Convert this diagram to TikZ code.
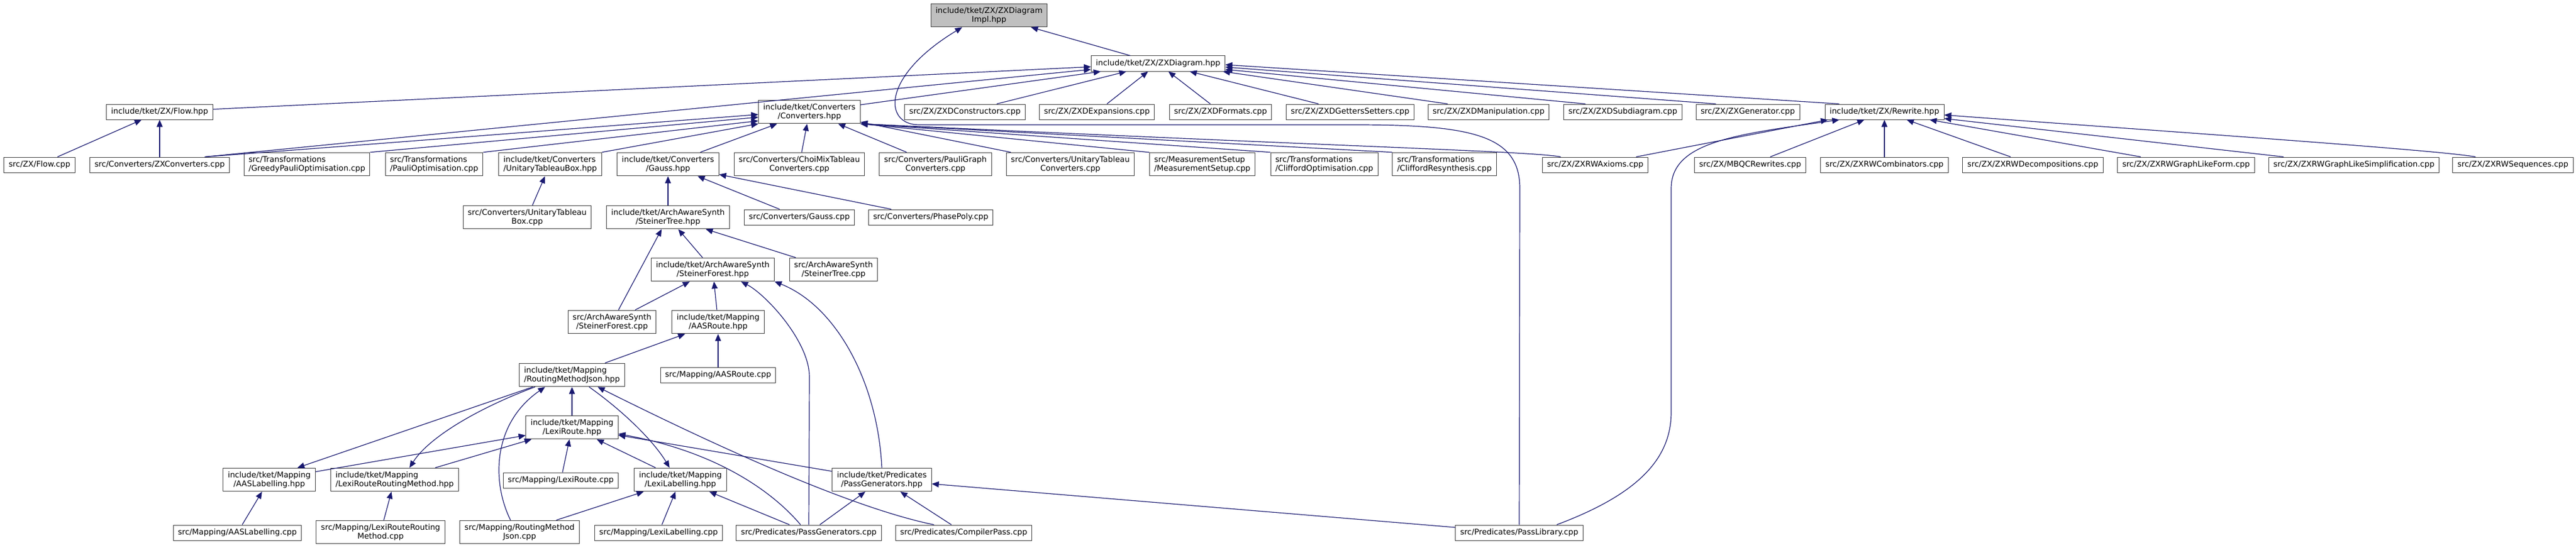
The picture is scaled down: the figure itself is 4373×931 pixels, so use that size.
\documentclass[tikz,border=0pt]{standalone}
\usepackage{fontspec}
\setmainfont{DejaVu Sans}
\usepackage{tikz}
\usetikzlibrary{arrows.meta}
\definecolor{edgeblue}{RGB}{25,25,112}
\definecolor{implgrey}{RGB}{191,191,191}
\definecolor{boxline}{RGB}{64,64,64}
\tikzstyle{file}=[draw=boxline,fill=white,line width=0.75pt,inner xsep=6pt,inner ysep=4.4pt,minimum height=19.5pt,font=\fontsize{10}{11.25}\selectfont,align=center]
\tikzstyle{inc}=[draw=edgeblue,line width=0.9pt,-{Triangle[length=9pt,width=7.5pt]}]

\begin{document}
\begin{tikzpicture}[x=0.75pt,y=-0.75pt]
        \useasboundingbox (0,0) rectangle (4373,931);
        \node (impl) at (1679,26) [file,fill=implgrey] {include/tket/ZX/ZXDiagram\\Impl.hpp};
        \node (zxd) at (1966,108) [file] {include/tket/ZX/ZXDiagram.hpp};
        \node (flowh) at (271,190) [file] {include/tket/ZX/Flow.hpp};
        \node (conv) at (1374,190) [file] {include/tket/Converters\\/Converters.hpp};
        \node (zxdcons) at (1638,190) [file] {src/ZX/ZXDConstructors.cpp};
        \node (zxdexp) at (1862,190) [file] {src/ZX/ZXDExpansions.cpp};
        \node (zxdfmt) at (2072,190) [file] {src/ZX/ZXDFormats.cpp};
        \node (zxdget) at (2292,190) [file] {src/ZX/ZXDGettersSetters.cpp};
        \node (zxdman) at (2527,190) [file] {src/ZX/ZXDManipulation.cpp};
        \node (zxdsub) at (2755,190) [file] {src/ZX/ZXDSubdiagram.cpp};
        \node (zxgen) at (2967,190) [file] {src/ZX/ZXGenerator.cpp};
        \node (rewh) at (3199,190) [file] {include/tket/ZX/Rewrite.hpp};
        \node (flowcpp) at (67,280) [file] {src/ZX/Flow.cpp};
        \node (zxconv) at (271,280) [file] {src/Converters/ZXConverters.cpp};
        \node (greedy) at (521,279) [file,align=left] {src/Transformations\\/GreedyPauliOptimisation.cpp};
        \node (pauliopt) at (737,279) [file,align=left] {src/Transformations\\/PauliOptimisation.cpp};
        \node (utbh) at (934,279) [file,align=left] {include/tket/Converters\\/UnitaryTableauBox.hpp};
        \node (gaussh) at (1134,279) [file] {include/tket/Converters\\/Gauss.hpp};
        \node (choimix) at (1357,279) [file] {src/Converters/ChoiMixTableau\\Converters.cpp};
        \node (pgconv) at (1588,279) [file] {src/Converters/PauliGraph\\Converters.cpp};
        \node (utconv) at (1817,279) [file] {src/Converters/UnitaryTableau\\Converters.cpp};
        \node (meas) at (2041,279) [file,align=left] {src/MeasurementSetup\\/MeasurementSetup.cpp};
        \node (cliffopt) at (2248,279) [file,align=left] {src/Transformations\\/CliffordOptimisation.cpp};
        \node (cliffres) at (2452,279) [file,align=left] {src/Transformations\\/CliffordResynthesis.cpp};
        \node (rwax) at (2708,280) [file] {src/ZX/ZXRWAxioms.cpp};
        \node (mbqc) at (2971,280) [file] {src/ZX/MBQCRewrites.cpp};
        \node (rwcomb) at (3199,280) [file] {src/ZX/ZXRWCombinators.cpp};
        \node (rwdec) at (3451,280) [file] {src/ZX/ZXRWDecompositions.cpp};
        \node (rwglf) at (3711,280) [file] {src/ZX/ZXRWGraphLikeForm.cpp};
        \node (rwgls) at (3996,280) [file] {src/ZX/ZXRWGraphLikeSimplification.cpp};
        \node (rwseq) at (4266,280) [file] {src/ZX/ZXRWSequences.cpp};
        \node (utbcpp) at (895,369) [file] {src/Converters/UnitaryTableau\\Box.cpp};
        \node (stth) at (1134,369) [file] {include/tket/ArchAwareSynth\\/SteinerTree.hpp};
        \node (gausscpp) at (1357,369) [file] {src/Converters/Gauss.cpp};
        \node (phasepoly) at (1580,369) [file] {src/Converters/PhasePoly.cpp};
        \node (stfh) at (1210,458) [file] {include/tket/ArchAwareSynth\\/SteinerForest.hpp};
        \node (sttcpp) at (1415,458) [file] {src/ArchAwareSynth\\/SteinerTree.cpp};
        \node (stfcpp) at (1039,547) [file] {src/ArchAwareSynth\\/SteinerForest.cpp};
        \node (aash) at (1219,547) [file] {include/tket/Mapping\\/AASRoute.hpp};
        \node (rmjh) at (971,637) [file,align=left] {include/tket/Mapping\\/RoutingMethodJson.hpp};
        \node (aascpp) at (1219,637) [file] {src/Mapping/AASRoute.cpp};
        \node (lexih) at (971,726) [file] {include/tket/Mapping\\/LexiRoute.hpp};
        \node (aaslh) at (457,815) [file] {include/tket/Mapping\\/AASLabelling.hpp};
        \node (lrrmh) at (670,815) [file,align=left] {include/tket/Mapping\\/LexiRouteRoutingMethod.hpp};
        \node (lexicpp) at (952,816) [file] {src/Mapping/LexiRoute.cpp};
        \node (lexlh) at (1155,815) [file] {include/tket/Mapping\\/LexiLabelling.hpp};
        \node (pgenh) at (1497,815) [file] {include/tket/Predicates\\/PassGenerators.hpp};
        \node (aaslcpp) at (403,905) [file] {src/Mapping/AASLabelling.cpp};
        \node (lrrmcpp) at (646,904) [file] {src/Mapping/LexiRouteRouting\\Method.cpp};
        \node (rmjcpp) at (882,904) [file] {src/Mapping/RoutingMethod\\Json.cpp};
        \node (lexlcpp) at (1118,905) [file] {src/Mapping/LexiLabelling.cpp};
        \node (pgencpp) at (1373,905) [file] {src/Predicates/PassGenerators.cpp};
        \node (cpcpp) at (1636,905) [file] {src/Predicates/CompilerPass.cpp};
        \node (plib) at (2579,905) [file] {src/Predicates/PassLibrary.cpp};

        \draw[inc] (zxd) -- (impl);
        \draw[inc] (plib.north) -- (2580,320) .. controls (2580,230) and (2500,212) .. (2300,212) -- (1560,212) .. controls (1500,212) and (1495,130) .. (impl.-156);
        \draw[inc] (flowh) -- (zxd);
        \draw[inc] (zxconv.10) -- (zxd.185);
        \draw[inc] (conv) -- (zxd);
        \draw[inc] (zxdcons) -- (zxd);
        \draw[inc] (zxdexp) -- (zxd);
        \draw[inc] (zxdfmt) -- (zxd);
        \draw[inc] (zxdget) -- (zxd);
        \draw[inc] (zxdman.169) -- (zxd.-7);
        \draw[inc] (zxdsub.168) -- (zxd.-5);
        \draw[inc] (zxgen.166) -- (zxd.-3);
        \draw[inc] (rewh.170) -- (zxd.-1);
        \draw[inc] (flowcpp) -- (flowh);
        \draw[inc] (zxconv) -- (flowh);
        \draw[inc] (zxconv.10) -- (conv.183);
        \draw[inc] (greedy.north east) -- (conv.186);
        \draw[inc] (pauliopt.north east) -- (conv.190);
        \draw[inc] (utbh.north east) -- (conv.south west);
        \draw[inc] (gaussh) -- (conv);
        \draw[inc] (choimix) -- (conv);
        \draw[inc] (pgconv) -- (conv);
        \draw[inc] (utconv) -- (conv);
        \draw[inc] (meas.north west) -- (conv.south east);
        \draw[inc] (cliffopt.north west) -- (conv.south east);
        \draw[inc] (cliffres.north west) -- (conv.south east);
        \draw[inc] (rwax.167) .. controls (2600,257) and (2300,250) .. (conv.south east);
        \draw[inc] (utbcpp) -- (utbh);
        \draw[inc] (stth) -- (gaussh);
        \draw[inc] (gausscpp) -- (gaussh);
        \draw[inc] (phasepoly) -- (gaussh);
        \draw[inc] (stfh) -- (stth);
        \draw[inc] (sttcpp) -- (stth);
        \draw[inc] (stfcpp) -- (stth);
        \draw[inc] (stfcpp) -- (stfh);
        \draw[inc] (aash) -- (stfh);
        \draw[inc] (pgencpp.north) -- (1374,640) .. controls (1374,580) and (1300,500) .. (stfh.-23);
        \draw[inc] (pgenh.north) .. controls (1490,650) and (1420,520) .. (stfh.south east);
        \draw[inc] (aascpp) -- (aash);
        \draw[inc] (rmjh) -- (aash);
        \draw[inc] (lexih) -- (rmjh);
        \draw[inc] (rmjcpp.127) .. controls (835,820) and (835,720) .. (rmjh.204);
        \draw[inc] (cpcpp.165) .. controls (1480,870) and (1300,800) .. (rmjh.-25);
        \draw[inc] (rmjh.197) -- (aaslh.23);
        \draw[inc] (rmjh.198) .. controls (820,690) and (730,740) .. (lrrmh.39);
        \draw[inc] (rmjh.-35) .. controls (1060,700) and (1110,750) .. (lexlh.132);
        \draw[inc] (aaslh) -- (lexih);
        \draw[inc] (lrrmh) -- (lexih);
        \draw[inc] (lexicpp) -- (lexih);
        \draw[inc] (lexlh) -- (lexih);
        \draw[inc] (pgenh) -- (lexih);
        \draw[inc] (pgencpp.136) .. controls (1320,845) and (1230,770) .. (lexih.-8);
        \draw[inc] (aaslcpp) -- (aaslh);
        \draw[inc] (lrrmcpp) -- (lrrmh);
        \draw[inc] (rmjcpp) -- (lexlh);
        \draw[inc] (lexlcpp) -- (lexlh);
        \draw[inc] (pgencpp) -- (lexlh);
        \draw[inc] (pgencpp) -- (pgenh);
        \draw[inc] (cpcpp) -- (pgenh);
        \draw[inc] (plib) -- (pgenh);
        \draw[inc] (rwax.11) -- (rewh.188);
        \draw[inc] (plib.12) .. controls (2780,840) and (2837,780) .. (2837,700) -- (2837,320) .. controls (2837,240) and (2950,228) .. (rewh.190);
        \draw[inc] (mbqc) -- (rewh);
        \draw[inc] (rwcomb) -- (rewh);
        \draw[inc] (rwdec) -- (rewh);
        \draw[inc] (rwglf) -- (rewh);
        \draw[inc] (rwgls) -- (rewh);
        \draw[inc] (rwseq.168) .. controls (4140,255) and (3700,225) .. (rewh.-3);
      \end{tikzpicture}
\end{document}
